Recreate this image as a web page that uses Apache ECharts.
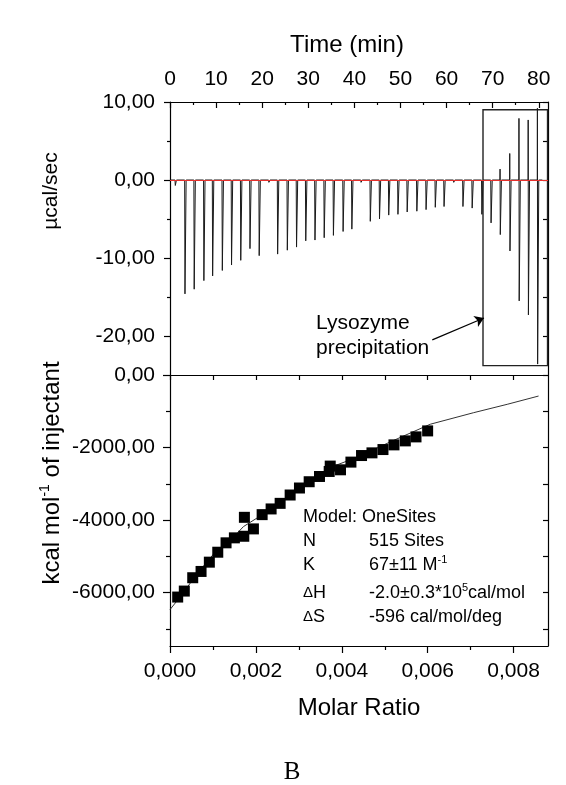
<!DOCTYPE html>
<html>
<head>
<meta charset="utf-8">
<script src="https://cdn.jsdelivr.net/npm/echarts@6/dist/echarts.min.js"></script>
<style>
  html, body { margin: 0; background: #fff; }
  #chart { width: 566px; height: 785px; }
</style>
</head>
<body>
<div id="chart"></div>
<script>
// raw thermogram: one entry per injection (min, µcal/sec)
const injTime = [1.1, 3.2, 5.2, 7.3, 9.2, 11.3, 13.3, 15.3, 17.3, 19.3,
  21.4, 23.3, 25.4, 27.4, 29.4, 31.4, 33.4, 35.4, 37.5, 39.4,
  41.4, 43.4, 45.4, 47.4, 49.4, 51.4, 53.5, 55.5, 57.5, 59.4,
  61.5, 63.5, 65.5, 67.6, 69.6, 71.6, 73.7, 75.7, 77.7, 79.7];
const peakMin = [-0.7, -14.6, -14.0, -12.9, -12.3, -11.6, -10.9, -10.3, -8.8, -9.7,
  -0.3, -9.5, -9.0, -8.6, -7.8, -7.7, -7.4, -7.1, -6.6, -6.3,
  -0.3, -5.3, -5.0, -4.5, -4.4, -4.1, -4.0, -3.8, -3.5, -3.4,
  -0.3, -3.4, -3.6, -4.4, -5.5, -7.0, -9.1, -15.5, -17.3, -23.6];
const peakMax = [0, 0, 0, 0, 0, 0, 0, 0, 0, 0,
  0, 0, 0, 0, 0, 0, 0, 0, 0, 0,
  0, 0, 0, 0, 0, 0, 0, 0, 0, 0,
  0, 0, 0, 0, 0, 1.4, 3.4, 7.9, 7.7, 9.2];

// integrated heats (molar ratio, kcal/mol of injectant)
const molarRatio = [0.000179, 0.000333, 0.000529, 0.000723, 0.000916, 0.001112, 0.001305, 0.001499,
  0.001718, 0.001732, 0.001942, 0.002145, 0.002354, 0.002564, 0.002797, 0.003014, 0.003240,
  0.003480, 0.003706, 0.003730, 0.003970, 0.004212, 0.004459, 0.004702, 0.004958, 0.005214,
  0.005478, 0.005727, 0.005998];
const heat = [-6121, -5956, -5588, -5415, -5159, -4885, -4626, -4489,
  -4445, -3923, -4242, -3849, -3692, -3538, -3308, -3115, -2942,
  -2797, -2659, -2511, -2613, -2401, -2220, -2146, -2055, -1926,
  -1816, -1706, -1541];

// fitted curve (one-site model)
const fitRatio = [0, 0.000233, 0.00066, 0.00105, 0.00144, 0.00171, 0.00214, 0.0026,
  0.00322, 0.00373, 0.00424, 0.00443, 0.00513, 0.00606, 0.00707, 0.00785, 0.00858];
const fitHeat = [-6467, -6121, -5434, -4885, -4516, -4179, -3857, -3464,
  -2962, -2549, -2319, -2228, -1843, -1357, -1038, -808, -580];

// tick labels
const timeTicks = [0, 10, 20, 30, 40, 50, 60, 70, 80];
const timeMinor = [5, 15, 25, 35, 45, 55, 65, 75];
const powerTicks = [-20, -10, 0, 10];
const powerMinor = [-15, -5, 5];
const powerRight = [-20, -15, -10, -5, 0, 5, 10];
const ratioTicks = [0, 0.002, 0.004, 0.006, 0.008];
const ratioMinor = [0.001, 0.003, 0.005, 0.007];
const ratioTop = [0, 0.001, 0.002, 0.003, 0.004, 0.005, 0.006, 0.007, 0.008];
const heatTicks = [-6000, -4000, -2000, 0];
const heatMinor = [-7000, -5000, -3000, -1000];
const heatRight = [-7000, -6000, -5000, -4000, -3000, -2000, -1000, 0];

const FONT = '"Liberation Sans", Arial, sans-serif';

// build the thermogram trace from the peaks
const trace = [[0, 0]];
injTime.forEach((t, i) => {
  trace.push([t - 0.02, 0]);
  if (peakMax[i] > 0) trace.push([t, peakMax[i]]);
  trace.push([t + 0.05, peakMin[i]]);
  trace.push([t + 0.3, 0]);
});
trace.push([80.8, 0]);

const comma2 = v => v.toFixed(2).replace('.', ',');
const comma3 = v => v.toFixed(3).replace('.', ',');

const line = { onZero: false, lineStyle: { color: '#000', width: 1.2 } };

function axis(grid, pos, min, max, ticks, len, inside, labels, fmt, margin, hideLine) {
  return {
    gridIndex: grid, type: 'value', position: pos, min: min, max: max,
    axisLine: hideLine ? { show: false, onZero: false } : line,
    axisTick: { show: true, inside: inside, length: len, customValues: ticks,
      lineStyle: { color: '#000', width: 1.2 } },
    axisLabel: labels ? { show: true, customValues: ticks, formatter: fmt, fontSize: 21,
      fontFamily: FONT, color: '#000', margin: margin } : { show: false },
    splitLine: { show: false }
  };
}

const chart = echarts.init(document.getElementById('chart'));
chart.setOption({
  animation: false,
  backgroundColor: '#fff',
  grid: [
    { left: 170, right: 18, top: 102, height: 273 },
    { left: 170, right: 18, top: 375, height: 271 }
  ],
  xAxis: [
    axis(0, 'top', 0, 82, timeTicks, 6, true, true, v => String(v), 12),
    axis(0, 'top', 0, 82, timeMinor, 3, true, false, null, 0, true),
    axis(1, 'bottom', 0, 0.0088, ratioTicks, 7, false, true, comma3, 15),
    axis(1, 'bottom', 0, 0.0088, ratioMinor, 4, false, false, null, 0, true),
    axis(1, 'top', 0, 0.0088, ratioTop, 5, true, false, null, 0)
  ],
  yAxis: [
    axis(0, 'left', -25, 10, powerTicks, 6, false, true, comma2, 15),
    axis(0, 'left', -25, 10, powerMinor, 3, false, false, null, 0, true),
    axis(0, 'right', -25, 10, powerRight, 5, true, false, null, 0),
    axis(1, 'left', -7470, 0, heatTicks, 7, false, true, comma2, 15),
    axis(1, 'left', -7470, 0, heatMinor, 4, false, false, null, 0, true),
    axis(1, 'right', -7470, 0, heatRight, 5, true, false, null, 0)
  ],
  series: [
    {
      type: 'line', xAxisIndex: 0, yAxisIndex: 0, data: trace,
      showSymbol: false, symbol: 'none', z: 2,
      lineStyle: { color: '#1a1a1a', width: 1 },
      markLine: {
        silent: true, symbol: 'none', label: { show: false },
        data: [
          { yAxis: 0, lineStyle: { color: '#e8302c', width: 1.2, type: 'solid' } },
          [
            { coord: [56.9, -20.5], symbol: 'none' },
            { coord: [68.1, -17.7], symbol: 'arrow', symbolSize: 9,
              lineStyle: { color: '#000', width: 1.2, type: 'solid' } }
          ]
        ]
      },
      markArea: {
        silent: true,
        itemStyle: { color: 'rgba(0,0,0,0)', borderColor: '#222', borderWidth: 1.4 },
        data: [[{ coord: [67.9, 9.0] }, { coord: [81.9, -23.8] }]]
      }
    },
    {
      type: 'line', xAxisIndex: 2, yAxisIndex: 3,
      data: fitRatio.map((x, i) => [x, fitHeat[i]]),
      showSymbol: false, symbol: 'none', z: 2,
      lineStyle: { color: '#333', width: 1 }
    },
    {
      type: 'scatter', xAxisIndex: 2, yAxisIndex: 3,
      data: molarRatio.map((x, i) => [x, heat[i]]),
      symbol: 'rect', symbolSize: 11, z: 3,
      itemStyle: { color: '#000', opacity: 1 }
    }
  ],
  graphic: [
    { type: 'text', x: 347, y: 45, style: { text: 'Time (min)', fontSize: 24, fontFamily: FONT,
      fill: '#000', align: 'center', verticalAlign: 'middle' } },
    { type: 'text', x: 51, y: 191, rotation: Math.PI / 2, style: { text: 'µcal/sec', fontSize: 21,
      fontFamily: FONT, fill: '#000', align: 'center', verticalAlign: 'middle' } },
    { type: 'text', x: 52, y: 473, rotation: Math.PI / 2, style: {
      text: '{a|kcal mol}{s|-1}{a| of injectant}', align: 'center', verticalAlign: 'middle',
      rich: {
        a: { fontSize: 24, fontFamily: FONT, fill: '#000', lineHeight: 28 },
        s: { fontSize: 14, fontFamily: FONT, fill: '#000', lineHeight: 28, verticalAlign: 'top' }
      } } },
    { type: 'text', x: 359, y: 708, style: { text: 'Molar Ratio', fontSize: 24, fontFamily: FONT,
      fill: '#000', align: 'center', verticalAlign: 'middle' } },
    { type: 'text', x: 292, y: 772, style: { text: 'B', fontSize: 25,
      fontFamily: '"Liberation Serif", "Times New Roman", serif', fill: '#000',
      align: 'center', verticalAlign: 'middle' } },
    { type: 'text', x: 316, y: 311, style: { text: 'Lysozyme\nprecipitation', fontSize: 21,
      fontFamily: FONT, fill: '#000', lineHeight: 25, align: 'left', verticalAlign: 'top' } },
    { type: 'text', x: 303, y: 517, style: { text: 'Model: OneSites', fontSize: 18, fontFamily: FONT,
      fill: '#000', verticalAlign: 'middle' } },
    { type: 'text', x: 303, y: 541, style: { text: 'N', fontSize: 18, fontFamily: FONT,
      fill: '#000', verticalAlign: 'middle' } },
    { type: 'text', x: 369, y: 541, style: { text: '515 Sites', fontSize: 18, fontFamily: FONT,
      fill: '#000', verticalAlign: 'middle' } },
    { type: 'text', x: 303, y: 565, style: { text: 'K', fontSize: 18, fontFamily: FONT,
      fill: '#000', verticalAlign: 'middle' } },
    { type: 'text', x: 369, y: 565, style: { text: '{a|67±11 M}{s|-1}', verticalAlign: 'middle',
      rich: {
        a: { fontSize: 18, fontFamily: FONT, fill: '#000', lineHeight: 22 },
        s: { fontSize: 11, fontFamily: FONT, fill: '#000', lineHeight: 22, verticalAlign: 'top' }
      } } },
    { type: 'text', x: 303, y: 593, style: { text: '{d|Δ}{a|H}', verticalAlign: 'middle',
      rich: {
        d: { fontSize: 15, fontFamily: FONT, fill: '#000', lineHeight: 22 },
        a: { fontSize: 18, fontFamily: FONT, fill: '#000', lineHeight: 22 }
      } } },
    { type: 'text', x: 369, y: 593, style: { text: '{a|-2.0±0.3*10}{s|5}{a|cal/mol}', verticalAlign: 'middle',
      rich: {
        a: { fontSize: 18, fontFamily: FONT, fill: '#000', lineHeight: 22 },
        s: { fontSize: 11, fontFamily: FONT, fill: '#000', lineHeight: 22, verticalAlign: 'top' }
      } } },
    { type: 'text', x: 303, y: 617, style: { text: '{d|Δ}{a|S}', verticalAlign: 'middle',
      rich: {
        d: { fontSize: 15, fontFamily: FONT, fill: '#000', lineHeight: 22 },
        a: { fontSize: 18, fontFamily: FONT, fill: '#000', lineHeight: 22 }
      } } },
    { type: 'text', x: 369, y: 617, style: { text: '-596 cal/mol/deg', fontSize: 18, fontFamily: FONT,
      fill: '#000', verticalAlign: 'middle' } }
  ]
});
</script>
</body>
</html>
